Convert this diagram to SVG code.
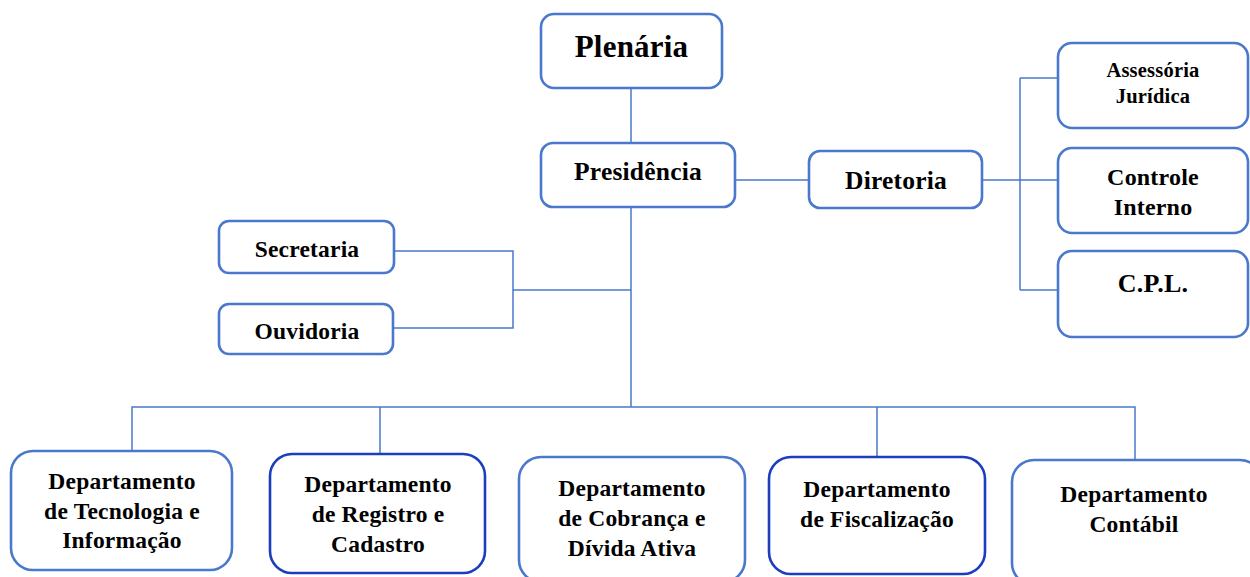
<svg xmlns="http://www.w3.org/2000/svg" width="1250" height="577" viewBox="0 0 1250 577">
<style>
.box{fill:#fff;stroke:#4A78CC;stroke-width:2.6}
.dark{stroke:#1C3DBE}
.ln{fill:none;stroke:#4A78CC;stroke-width:1.5}
text{font-family:"Liberation Serif","Times New Roman",serif;font-weight:bold;fill:#000;text-anchor:middle;letter-spacing:0.2px}
.t22{font-size:23.5px}
.t24{font-size:25.5px}
</style>
<rect width="1250" height="577" fill="#fff"/>
<g id="connectors">
<path class="ln" d="M631 88V143M631 207V407M735 180H810M982 180H1020M1020 78V290M1020 78H1058M1020 180H1058M1020 290H1058"/>
<path class="ln" d="M394 251H513V328H393M513 290H631"/>
<path class="ln" d="M132 451V407H1135V460M380 454V407M877 457V407"/>
</g>
<g id="plenaria"><rect class="box" x="541" y="14" width="181" height="74" rx="13"/><text x="631.5" y="57" style="font-size:31px">Plenária</text></g>
<g id="presidencia"><rect class="box" x="541" y="143" width="194" height="64" rx="12"/><text class="t24" x="638" y="180">Presidência</text></g>
<g id="diretoria"><rect class="box" x="809" y="151" width="173" height="57" rx="11"/><text class="t24" x="896" y="189">Diretoria</text></g>
<g id="assessoria"><rect class="box" x="1058" y="43" width="190" height="85" rx="14"/><text x="1153" y="77" style="font-size:20.5px">Assessória</text><text x="1153" y="103" style="font-size:20.5px">Jurídica</text></g>
<g id="controle"><rect class="box" x="1058" y="148" width="190" height="85" rx="14"/><text x="1153" y="185" style="font-size:24px">Controle</text><text x="1153" y="215" style="font-size:24px">Interno</text></g>
<g id="cpl"><rect class="box" x="1058" y="251" width="190" height="86" rx="14"/><text x="1153" y="292" style="font-size:26px">C.P.L.</text></g>
<g id="secretaria"><rect class="box" x="219" y="221" width="175" height="52" rx="10"/><text class="t22" x="307" y="257">Secretaria</text></g>
<g id="ouvidoria"><rect class="box" x="219" y="304" width="174" height="50" rx="10"/><text class="t22" x="307" y="339">Ouvidoria</text></g>
<g id="dep-ti"><rect class="box" x="11" y="451" width="221" height="119" rx="22"/><text class="t22" x="122" y="489">Departamento</text><text class="t22" x="122" y="519">de Tecnologia e</text><text class="t22" x="122" y="548">Informação</text></g>
<g id="dep-registro"><rect class="box dark" x="270" y="454" width="215" height="119" rx="22"/><text class="t22" x="378" y="492">Departamento</text><text class="t22" x="378" y="522">de Registro e</text><text class="t22" x="378" y="552">Cadastro</text></g>
<g id="dep-cobranca"><rect class="box" x="519" y="457" width="226" height="125" rx="22"/><text class="t22" x="632" y="496">Departamento</text><text class="t22" x="632" y="526">de Cobrança e</text><text class="t22" x="632" y="556">Dívida Ativa</text></g>
<g id="dep-fiscalizacao"><rect class="box dark" x="769" y="457" width="216" height="117" rx="22"/><text class="t22" x="877" y="497">Departamento</text><text class="t22" x="877" y="527">de Fiscalização</text></g>
<g id="dep-contabil"><rect class="box" x="1012" y="460" width="250" height="125" rx="22"/><text class="t22" x="1134" y="502">Departamento</text><text class="t22" x="1134" y="532">Contábil</text></g>
</svg>
